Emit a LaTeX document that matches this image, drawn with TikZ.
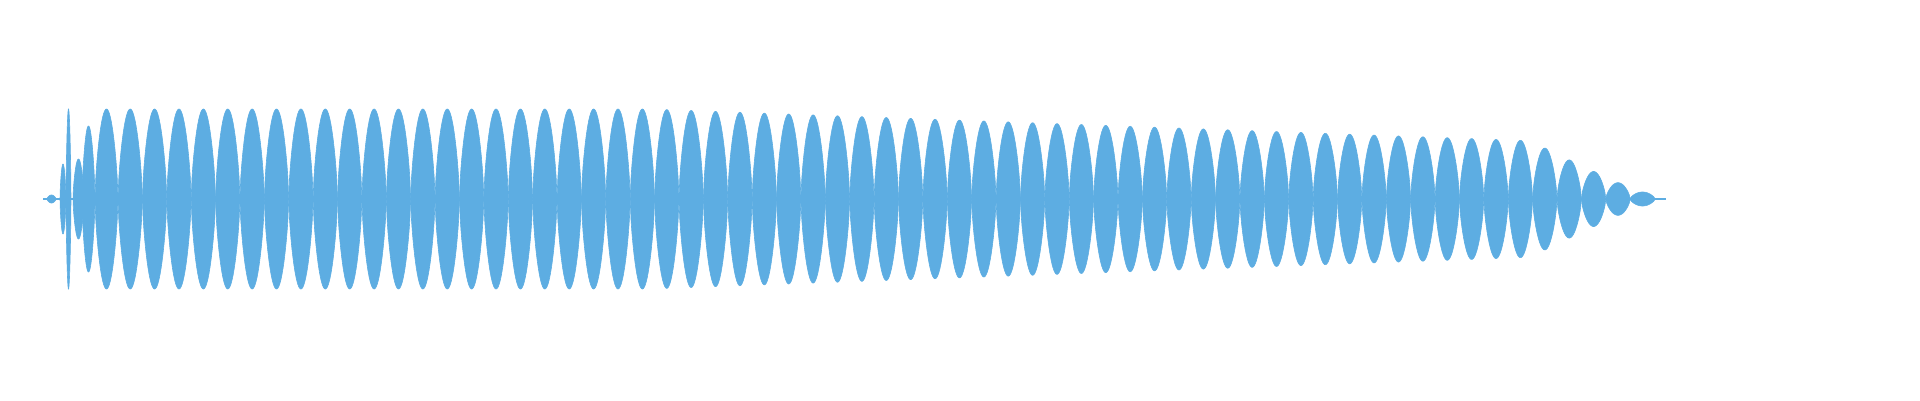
\documentclass[tikz,border=0pt]{standalone}
\begin{document}
\begin{tikzpicture}[x=1pt,y=1pt]
\definecolor{wave}{RGB}{93,173,226}
\tikzset{lobe/.style={fill=wave,draw=wave,line width=0.6pt}}
\useasboundingbox (0,0) rectangle (1920,400);
\def\cy{201}
\draw[wave,line width=2pt] (43,\cy) -- (1666,\cy);
\foreach \xa/\xb/\A in {47/56/4, 60/66/35, 66/71/90, 73/84/40, 82/95/73, 95/118/90, 1630/1655/7}{
  \fill[lobe] plot[domain=0:180,samples=31] ({\xa+(\xb-\xa)*\x/180},{\cy+\A*(sin(\x))^0.65})
     -- plot[domain=180:0,samples=31] ({\xa+(\xb-\xa)*\x/180},{\cy-\A*(sin(\x))^0.65}) -- cycle;
}
\foreach \i in {0,...,61}{
  \pgfmathsetmacro{\xa}{118+24.39*\i}
  \pgfmathsetmacro{\xm}{\xa+12.2}
  \pgfmathsetmacro{\lin}{\xm<650 ? 90 : 90-0.036*(\xm-650)}
  \pgfmathsetmacro{\tap}{min(1,(1655-\xm)/125)}
  \pgfmathsetmacro{\A}{\lin*\tap}
  \fill[lobe] plot[domain=0:180,samples=31] ({\xa+24.39*\x/180},{\cy+\A*(sin(\x))^0.65})
     -- plot[domain=180:0,samples=31] ({\xa+24.39*\x/180},{\cy-\A*(sin(\x))^0.65}) -- cycle;
}
\end{tikzpicture}
\end{document}
